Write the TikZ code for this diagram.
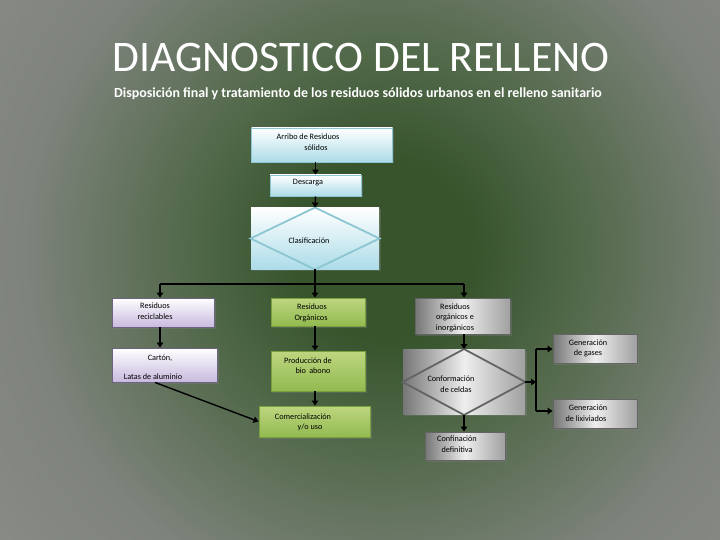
\documentclass[tikz,border=0pt]{standalone}
\usepackage{fontspec}
\setmainfont{Carlito}
\usetikzlibrary{arrows.meta,shadows}
\definecolor{bgGreen}{RGB}{55,84,45}
\definecolor{bgMid}{RGB}{82,105,74}
\definecolor{bgGray}{RGB}{126,131,124}
\definecolor{bgGray2}{RGB}{138,140,135}
\definecolor{cyanF}{RGB}{172,220,232}
\definecolor{cyanB}{RGB}{140,198,210}
\definecolor{purF}{RGB}{200,186,222}
\definecolor{purB}{RGB}{110,98,130}
\definecolor{grnT}{RGB}{190,214,128}
\definecolor{grnF}{RGB}{146,186,80}
\definecolor{grnB}{RGB}{120,160,60}
\definecolor{gryL}{RGB}{118,118,118}
\definecolor{gryM}{RGB}{238,238,238}
\definecolor{gryR}{RGB}{160,160,160}
\definecolor{gryB}{RGB}{100,100,100}
\pgfdeclareradialshading{bgshade}{\pgfpoint{0bp}{0bp}}{color(0bp)=(bgGreen); color(5bp)=(bgGreen); color(11bp)=(bgMid); color(20bp)=(bgGray); color(28bp)=(bgGray2); color(50bp)=(bgGray2)}
\tikzset{
  box/.style={line width=0.9pt, inner sep=0pt, drop shadow={shadow xshift=1.5pt, shadow yshift=-1.5pt, opacity=0.35}},
  cyanbox/.style={box, draw=cyanB, top color=white, bottom color=cyanF},
  purbox/.style={box, draw=purB, top color=white, bottom color=purF},
  grnbox/.style={box, draw=grnB, top color=grnT, bottom color=grnF},
  gryfill/.style={left color=gryL, right color=gryR, middle color=gryM},
  grybox/.style={box, draw=gryB, gryfill},
  txt/.style={inner sep=0pt, font=\fontsize{8.2}{9}\selectfont, text=black},
  arr/.style={-{Triangle[length=5pt,width=6.5pt]}, line width=1.4pt, black},
  ln/.style={line width=1.4pt, black}
}
\begin{document}
\begin{tikzpicture}[x=1pt,y=-1pt]
\useasboundingbox (0,0) rectangle (720,540);
\begin{scope}
\clip (0,0) rectangle (720,540);
\shade[shading=bgshade] (-65,-200) rectangle (835,700);
\end{scope}
% titles
\node[text=white, inner sep=0pt, font=\fontsize{43.6}{50}\selectfont] (title) at (361,58) {DIAGNOSTICO DEL RELLENO};
\node[text=white, inner sep=0pt, font=\bfseries\fontsize{13.9}{16}\selectfont] (sub) at (358,94) {Disposición final y tratamiento de los residuos sólidos urbanos en el relleno sanitario};
% top column
\node[cyanbox, minimum width=141pt, minimum height=34pt] (arribo) at (322,145) {};
\node[txt] (t1) at (308,137) {Arribo de Residuos};
\node[txt] (t2) at (316,148) {sólidos};
\node[cyanbox, minimum width=91pt, minimum height=21pt] (desc) at (315.5,185.5) {};
\node[txt] (t3) at (308,183) {Descarga};
\node[box, top color=white, bottom color=cyanF, minimum width=128pt, minimum height=61pt] (clas) at (315,238.5) {};
\draw[cyanB, line width=1.8pt] (clas.north) -- (clas.east) -- (clas.south) -- (clas.west) -- cycle;
\node[txt] (t4) at (309,241) {Clasificación};
\draw[arr] (arribo.south -| desc.north) -- (desc.north);
\draw[arr] (desc.south) -- (clas.north);
% left column
\node[purbox, minimum width=102pt, minimum height=29pt] (recic) at (163,312.5) {};
\node[txt] (t5) at (155,306) {Residuos};
\node[txt] (t6) at (155,317) {reciclables};
\node[purbox, minimum width=105pt, minimum height=34pt] (cart) at (164.5,365) {};
\node[txt] (t7) at (160,358) {Cartón,};
\node[txt] (t8) at (153,377) {Latas de aluminio};
% middle column
\node[grnbox, minimum width=94pt, minimum height=28pt] (org) at (318,312) {};
\node[txt] (t9) at (312,307) {Residuos};
\node[txt] (t10) at (311,318) {Orgánicos};
\node[grnbox, minimum width=94pt, minimum height=40pt] (prod) at (318,371) {};
\node[txt] (t11) at (308,361) {Producción de};
\node[txt] (t12) at (313,371) {bio\, abono};
\node[grnbox, minimum width=111pt, minimum height=31pt] (comm) at (314.5,421.5) {};
\node[txt] (t13) at (303,417) {Comercialización};
\node[txt] (t14) at (310,427) {y/o uso};
% right column
\node[grybox, minimum width=95pt, minimum height=36pt] (inorg) at (462.5,316) {};
\node[txt] (t15) at (455,307) {Residuos};
\node[txt] (t16) at (455,317) {orgánicos e};
\node[txt] (t17) at (455,328) {inorgánicos};
\node[box, draw=none, gryfill, minimum width=122pt, minimum height=65pt] (conf) at (464,382) {};
\draw[gryB, line width=1.8pt] (conf.north) -- (conf.east) -- (conf.south) -- (conf.west) -- cycle;
\node[txt] (t18) at (451,379) {Conformación};
\node[txt] (t19) at (456,390) {de celdas};
\node[grybox, minimum width=80pt, minimum height=28pt] (confin) at (465,446) {};
\node[txt] (t20) at (457,439) {Confinación};
\node[txt] (t21) at (457,450) {definitiva};
\node[grybox, minimum width=84pt, minimum height=29pt] (gas) at (595,348.5) {};
\node[txt] (t22) at (588,343) {Generación};
\node[txt] (t23) at (588,353) {de gases};
\node[grybox, minimum width=84pt, minimum height=29pt] (lix) at (595,413.5) {};
\node[txt] (t24) at (588,408) {Generación};
\node[txt] (t25) at (586,419) {de lixiviados};
% branch from clasificacion
\coordinate (bj) at (315,284);
\coordinate (bl) at (160,284);
\coordinate (br) at (464,284);
\draw[ln] (clas.south) -- (bj);
\draw[ln] (bl) -- (br);
\draw[arr] (bl) -- (bl |- recic.north);
\draw[arr] (bj) -- (bj |- org.north);
\draw[arr] (br) -- (br |- inorg.north);
% column arrows
\draw[arr] (recic.south -| bl) -- (cart.north -| bl);
\draw[arr] (org.south -| bj) -- (prod.north -| bj);
\draw[arr] (prod.south -| bj) -- (comm.north -| bj);
\draw[arr] ([xshift=-9.5pt]cart.south) -- (comm.west);
\draw[arr] (inorg.south -| conf.north) -- (conf.north);
\draw[arr] (conf.south) -- (confin.north -| conf.south);
% right branch
\coordinate (vj) at (536,382);
\coordinate (vt) at (536,349);
\coordinate (vb) at (536,411);
\draw[arr] (conf.east) -- (vj);
\draw[ln] (vt) -- (vb);
\draw[arr] (vt) -- (vt -| gas.west);
\draw[arr] (vb) -- (vb -| lix.west);
\end{tikzpicture}
\end{document}
